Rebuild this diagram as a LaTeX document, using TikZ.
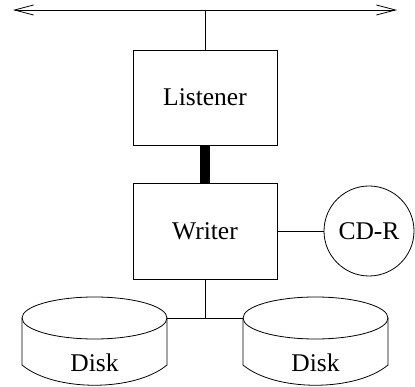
\documentclass[tikz,border=0pt]{standalone}
\usepackage{fontspec}
\setmainfont{Liberation Serif}
\usetikzlibrary{arrows.meta}

\tikzset{
  wire/.style={draw=black, line width=0.8pt},
  pipe/.style={draw=black, line width=10pt},
  block/.style={wire, rectangle, inner sep=0pt, minimum width=144pt, minimum height=95pt},
  drive/.style={wire, circle, inner sep=0pt, minimum size=90pt},
  lbl/.style={font=\fontsize{25.5}{30}\selectfont},
  bus/.style={wire, {Straight Barb[length=19pt, width=10pt]}-{Straight Barb[length=19pt, width=10pt]}},
  pics/disk/.style={code={
    \draw[wire] (-72.5,0) -- (-72.5,47) .. controls (-40,74) and (40,74) .. (72.5,47) -- (72.5,0);
    \draw[wire] (0,0) ellipse [x radius=72.5pt, y radius=21pt];
    \coordinate (-w) at (-72.5,0);
    \coordinate (-e) at (72.5,0);
    \node[lbl, inner sep=0pt] (-txt) at (0,45) {Disk};
  }}
}

\begin{document}
\begin{tikzpicture}[x=1pt, y=-1pt]
  \useasboundingbox (0,0) rectangle (415,387);

  % network bus
  \coordinate (busL) at (13,10);
  \coordinate (busR) at (397,10);
  \coordinate (busM) at (205,10);
  \draw[bus] (busL) -- (busR);

  % processes
  \node[block, lbl] (listener) at (205,97.5) {Listener};
  \node[block, lbl, minimum height=96pt] (writer) at (205,231) {Writer};
  \node[drive, lbl] (cdr) at (369,231) {CD-R};

  % storage
  \pic (d1) at (94.5,318) {disk};
  \pic (d2) at (315.5,318) {disk};
  \coordinate (jn) at (205,318);

  % connections
  \draw[wire] (busM) -- (listener.north);
  \draw[pipe] (listener.south) -- (writer.north);
  \draw[wire] (writer.east) -- (cdr.west);
  \draw[wire] (writer.south) -- (jn);
  \draw[wire] (d1-e) -- (d2-w);
\end{tikzpicture}
\end{document}
